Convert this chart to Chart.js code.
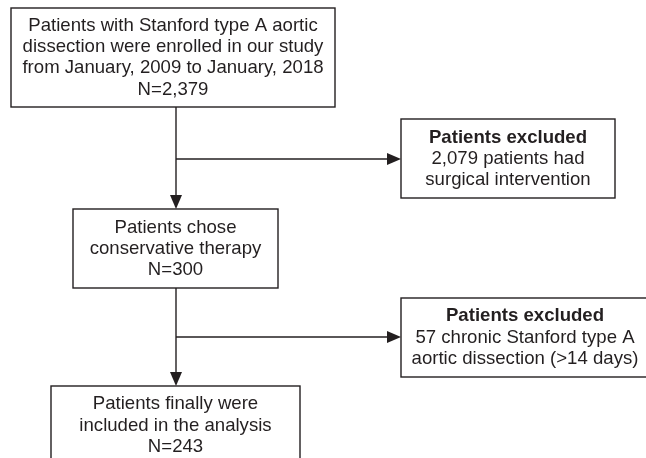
<!DOCTYPE html>
<html>
<head>
<meta charset="utf-8">
<script src="https://cdn.jsdelivr.net/npm/chart.js@4/dist/chart.umd.min.js"></script>
<style>
html,body{margin:0;padding:0;background:#fff;}
#wrap{width:646px;height:458px;position:relative;}
</style>
</head>
<body>
<div id="wrap"><canvas id="c"></canvas></div>
<script>
// ---- data ----
const enrolled = 2379;
const surgical = 2079;
const conservative = 300;
const chronic = 57;
const finalN = 243;
const fmt = n => n.toLocaleString('en-US');

const boxIds = ['enrolled','excluded1','conservative','excluded2','final'];
const boxTitles = [null,'Patients excluded',null,'Patients excluded',null];
const boxLines = [
  ['Patients with Stanford type A aortic','dissection were enrolled in our study','from January, 2009 to January, 2018','N=' + fmt(enrolled)],
  [fmt(surgical) + ' patients had','surgical intervention'],
  ['Patients chose','conservative therapy','N=' + fmt(conservative)],
  [chronic + ' chronic Stanford type A','aortic dissection (>14 days)'],
  ['Patients finally were','included in the analysis','N=' + fmt(finalN)]
];

// ---- layout (positions in scale units, separate from data) ----
const boxRect = { // x1, y1, x2, y2
  enrolled:[11,8,335,107],
  excluded1:[401,119,615,198],
  conservative:[73,209,278,288],
  excluded2:[401,298,652,377],
  final:[51,386,300,480]
};
const textCenter = { // x, y of text block centre
  enrolled:[173,57.5],
  excluded1:[508,159],
  conservative:[175.5,249],
  excluded2:[525,337.5],
  final:[175.5,425.5]
};
const spineX = 176;
const arrows = [ // [x1,y1,x2,y2]
  [spineX,107,spineX,209],
  [spineX,159,401,159],
  [spineX,288,spineX,386],
  [spineX,337,401,337]
];
const FONT = '"Liberation Sans", Arial, Helvetica, sans-serif';
const INK = '#231f20';
const FS = 18.6, LH = 21.3;

const flowPlugin = {
  id:'flow',
  afterDatasetsDraw(chart){
    const ctx = chart.ctx, xs = chart.scales.x, ys = chart.scales.y;
    const px = v => xs.getPixelForValue(v), py = v => ys.getPixelForValue(v);
    ctx.save();
    ctx.strokeStyle = INK; ctx.fillStyle = INK; ctx.lineWidth = 1.4;
    arrows.forEach(a=>{
      const x1=px(a[0]),y1=py(a[1]),x2=px(a[2]),y2=py(a[3]);
      const ang = Math.atan2(y2-y1,x2-x1), L=14, W=6;
      ctx.beginPath(); ctx.moveTo(x1,y1);
      ctx.lineTo(x2-Math.cos(ang)*L*0.9,y2-Math.sin(ang)*L*0.9); ctx.stroke();
      ctx.beginPath(); ctx.moveTo(x2,y2);
      ctx.lineTo(x2-Math.cos(ang)*L-Math.sin(ang)*W, y2-Math.sin(ang)*L+Math.cos(ang)*W);
      ctx.lineTo(x2-Math.cos(ang)*L+Math.sin(ang)*W, y2-Math.sin(ang)*L-Math.cos(ang)*W);
      ctx.closePath(); ctx.fill();
    });
    boxIds.forEach((id,i)=>{
      const r = boxRect[id];
      const x1=px(r[0]),y1=py(r[1]),x2=px(r[2]),y2=py(r[3]);
      ctx.fillStyle='#fff'; ctx.fillRect(x1,y1,x2-x1,y2-y1);
      ctx.strokeStyle=INK; ctx.lineWidth=1.4; ctx.strokeRect(x1,y1,x2-x1,y2-y1);
      const lines = (boxTitles[i]?[{t:boxTitles[i],b:true}]:[]).concat(boxLines[i].map(t=>({t,b:false})));
      const tc = textCenter[id];
      const cx = px(tc[0]), cy = py(tc[1]);
      const top = cy - (lines.length-1)*LH/2;
      ctx.fillStyle=INK; ctx.textAlign='center'; ctx.textBaseline='middle';
      lines.forEach((ln,k)=>{
        ctx.font=(ln.b?'bold ':'')+FS+'px '+FONT;
        ctx.fillText(ln.t,cx,top+k*LH);
      });
    });
    ctx.restore();
  }
};

new Chart(document.getElementById('c'),{
  type:'scatter',
  data:{datasets:[{data:boxIds.map(id=>({x:textCenter[id][0],y:textCenter[id][1]})),pointRadius:0}]},
  options:{
    responsive:true, maintainAspectRatio:false, animation:false,
    layout:{padding:0},
    plugins:{legend:{display:false},tooltip:{enabled:false}},
    scales:{
      x:{type:'linear',min:0,max:646,display:false},
      y:{type:'linear',min:0,max:458,reverse:true,display:false}
    }
  },
  plugins:[flowPlugin]
});
</script>
</body>
</html>
